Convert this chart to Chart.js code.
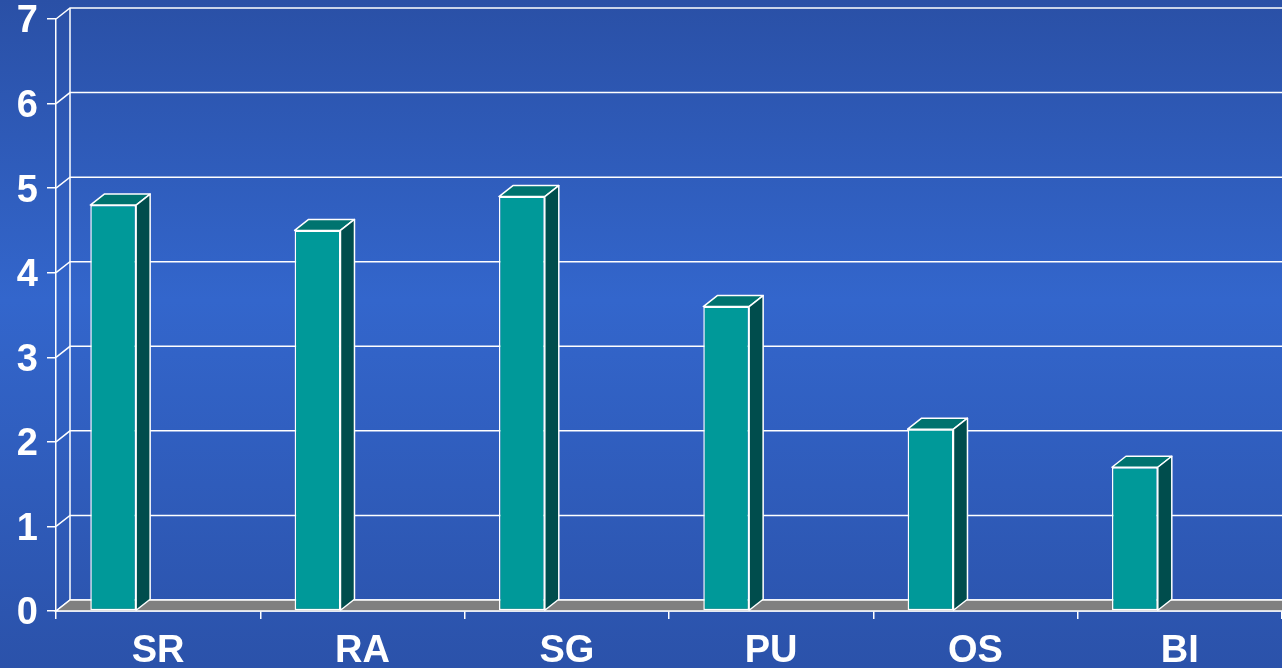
<!DOCTYPE html>
<html>
<head>
<meta charset="utf-8">
<script src="https://cdn.jsdelivr.net/npm/chart.js@4"></script>
<style>
  html, body { margin: 0; padding: 0; }
  body { width: 1282px; height: 668px; overflow: hidden; }
  #wrap { width: 1282px; height: 668px; position: relative; }
</style>
</head>
<body>
<div id="wrap"><canvas id="bars"></canvas></div>
<script>
const categories = ['SR', 'RA', 'SG', 'PU', 'OS', 'BI'];
const values = [4.8, 4.5, 4.9, 3.6, 2.15, 1.7];
const yMin = 0;
const yMax = 7;

// depth of the fake 3d
const DX = 14;
const DY = 11;

const bgPlugin = {
    id: 'bg',
    beforeDraw(chart) {
        const ctx = chart.ctx;
        const g = ctx.createLinearGradient(0, 0, 0, chart.height);
        g.addColorStop(0, '#2a50a6');
        g.addColorStop(0.45, '#3366cc');
        g.addColorStop(1, '#2b52aa');
        ctx.save();
        ctx.fillStyle = g;
        ctx.fillRect(0, 0, chart.width, chart.height);
        ctx.restore();
    }
};

const wallPlugin = {
    id: 'wall',
    beforeDatasetsDraw(chart) {
        const ctx = chart.ctx;
        const y = chart.scales.y;
        const area = chart.chartArea;
        const left = area.left;
        const base = y.getPixelForValue(0);
        ctx.save();
        ctx.strokeStyle = '#ffffff';
        ctx.lineWidth = 1.5;
        // grid on back wall + side wall
        y.ticks.forEach(t => {
            const py = y.getPixelForValue(t.value);
            ctx.beginPath();
            ctx.moveTo(left, py);
            ctx.lineTo(left + DX, py - DY);
            ctx.lineTo(area.right, py - DY);
            ctx.stroke();
        });
        // back wall left edge
        ctx.beginPath();
        ctx.moveTo(left + DX, y.getPixelForValue(yMax) - DY);
        ctx.lineTo(left + DX, base - DY);
        ctx.stroke();
        // floor
        ctx.beginPath();
        ctx.moveTo(left, base);
        ctx.lineTo(left + DX, base - DY);
        ctx.lineTo(area.right + 2, base - DY);
        ctx.lineTo(area.right + 2, base);
        ctx.closePath();
        ctx.fillStyle = '#808080';
        ctx.fill();
        ctx.stroke();
        ctx.restore();
    }
};

const boxPlugin = {
    id: 'box',
    afterDatasetsDraw(chart) {
        const ctx = chart.ctx;
        const meta = chart.getDatasetMeta(0);
        ctx.save();
        ctx.strokeStyle = '#ffffff';
        ctx.lineWidth = 1.5;
        ctx.lineJoin = 'round';
        meta.data.forEach(bar => {
            const p = bar.getProps(['x', 'y', 'width', 'base'], true);
            const l = p.x - p.width / 2;
            const r = p.x + p.width / 2;
            // top face
            ctx.beginPath();
            ctx.moveTo(l, p.y);
            ctx.lineTo(l + DX, p.y - DY);
            ctx.lineTo(r + DX, p.y - DY);
            ctx.lineTo(r, p.y);
            ctx.closePath();
            ctx.fillStyle = '#00736f';
            ctx.fill();
            ctx.stroke();
            // side face
            ctx.beginPath();
            ctx.moveTo(r, p.y);
            ctx.lineTo(r + DX, p.y - DY);
            ctx.lineTo(r + DX, p.base - DY);
            ctx.lineTo(r, p.base);
            ctx.closePath();
            ctx.fillStyle = '#004d4d';
            ctx.fill();
            ctx.stroke();
        });
        ctx.restore();
    }
};

const canvas = document.getElementById('bars');

new Chart(canvas, {
    type: 'bar',
    data: {
        labels: categories,
        datasets: [
            {
                label: 'valeurs',
                data: values,
                backgroundColor: '#009999',
                borderColor: '#ffffff',
                borderWidth: 1.5,
                borderSkipped: false
            },
            {
                label: 'vide',
                data: categories.map(() => null)
            }
        ]
    },
    options: {
        responsive: true,
        maintainAspectRatio: false,
        animation: false,
        categoryPercentage: 0.88,
        barPercentage: 0.51,
        layout: { padding: { top: 19, right: 0, left: 0, bottom: 0 } },
        plugins: {
            legend: { display: false },
            tooltip: { enabled: false }
        },
        scales: {
            x: {
                grid: {
                    drawOnChartArea: false,
                    drawTicks: true,
                    tickLength: 8,
                    color: '#ffffff',
                    lineWidth: 1.5
                },
                border: { display: true, color: '#ffffff', width: 1.5 },
                ticks: {
                    color: '#ffffff',
                    padding: 10,
                    font: { family: 'Liberation Sans', size: 38, weight: 'bold' }
                },
                afterFit(scale) {
                    scale.height = 57;
                    scale.paddingLeft = 0;
                    scale.paddingRight = 0;
                }
            },
            y: {
                min: yMin,
                max: yMax,
                grid: {
                    drawOnChartArea: false,
                    drawTicks: true,
                    tickLength: 9,
                    color: '#ffffff',
                    lineWidth: 1.5
                },
                border: { display: true, color: '#ffffff', width: 1.5 },
                ticks: {
                    stepSize: 1,
                    color: '#ffffff',
                    padding: 9,
                    labelOffset: 3,
                    font: { family: 'Liberation Sans', size: 38, weight: 'bold' }
                },
                afterFit(scale) {
                    scale.width = 56;
                    scale.paddingTop = 0;
                    scale.paddingBottom = 0;
                }
            }
        }
    },
    plugins: [bgPlugin, wallPlugin, boxPlugin]
});
</script>
</body>
</html>
